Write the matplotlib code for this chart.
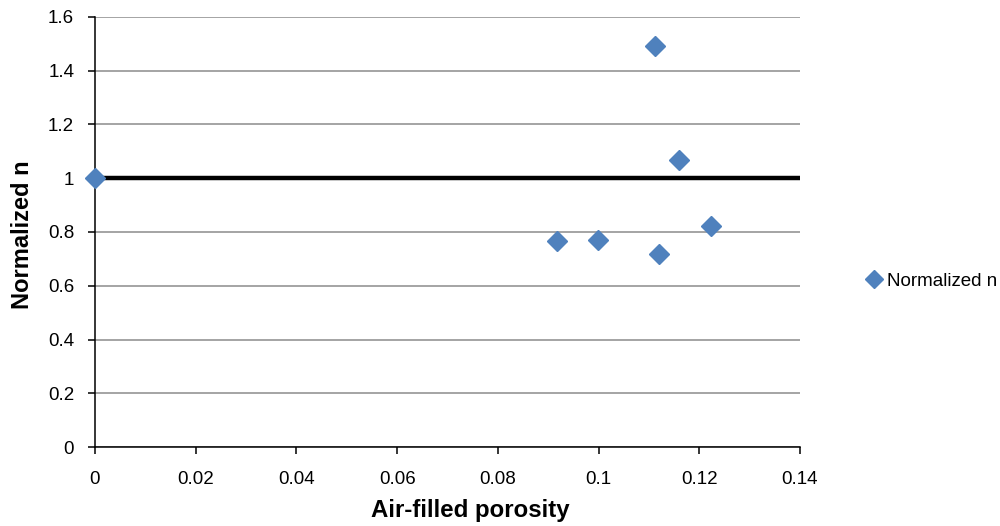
import numpy as np
import matplotlib.pyplot as plt

plt.rcParams['font.family'] = ['Liberation Sans', 'DejaVu Sans']

# porosity vs normalized n
porosity = [0.0, 0.0917, 0.0998, 0.1113, 0.1120, 0.1160, 0.1224]
norm_n = [1.0, 0.765, 0.770, 1.492, 0.717, 1.068, 0.822]

fig = plt.figure(figsize=(10, 5.26), dpi=100)
ax = fig.add_axes([0.095, 0.150, 0.705, 0.818])

ax.set_xlim(0, 0.14)
ax.set_ylim(0, 1.6)
ax.set_xticks(np.arange(0, 0.141, 0.02))
ax.set_yticks(np.arange(0, 1.61, 0.2))
ax.set_xticklabels(["0", "0.02", "0.04", "0.06", "0.08", "0.1", "0.12", "0.14"])
ax.set_yticklabels(["0", "0.2", "0.4", "0.6", "0.8", "1", "1.2", "1.4", "1.6"])

ax.grid(axis='y', color='#8c8c8c', linewidth=1.1)
ax.set_axisbelow(True)
for side in ('top', 'right'):
    ax.spines[side].set_visible(False)
for side in ('left', 'bottom'):
    ax.spines[side].set_linewidth(1.1)
ax.tick_params(direction='out', length=5, width=1.1, labelsize=13.5)
ax.tick_params(axis='x', pad=12)
ax.tick_params(axis='y', pad=10)

# reference line at 1
ax.axhline(1.0, color='black', linewidth=3.2, zorder=2)

ax.plot(porosity, norm_n, linestyle='none', marker='D', markersize=10,
        color='#4F81BD', markeredgecolor='#4F81BD', label='Normalized n',
        zorder=3, clip_on=False)

ax.set_xlabel('Air-filled porosity', fontsize=17.3, fontweight='bold', va='center')
ax.xaxis.set_label_coords(0.533, -0.147)
ax.set_ylabel('Normalized n', fontsize=17, fontweight='bold', va='center')
ax.yaxis.set_label_coords(-0.103, 0.493)

ax.legend(loc='center left', bbox_to_anchor=(1.065, 0.386), frameon=False,
          fontsize=13.5, handletextpad=0.1, handlelength=1.2, markerscale=0.9)

fig.savefig('out.png', dpi=100)
